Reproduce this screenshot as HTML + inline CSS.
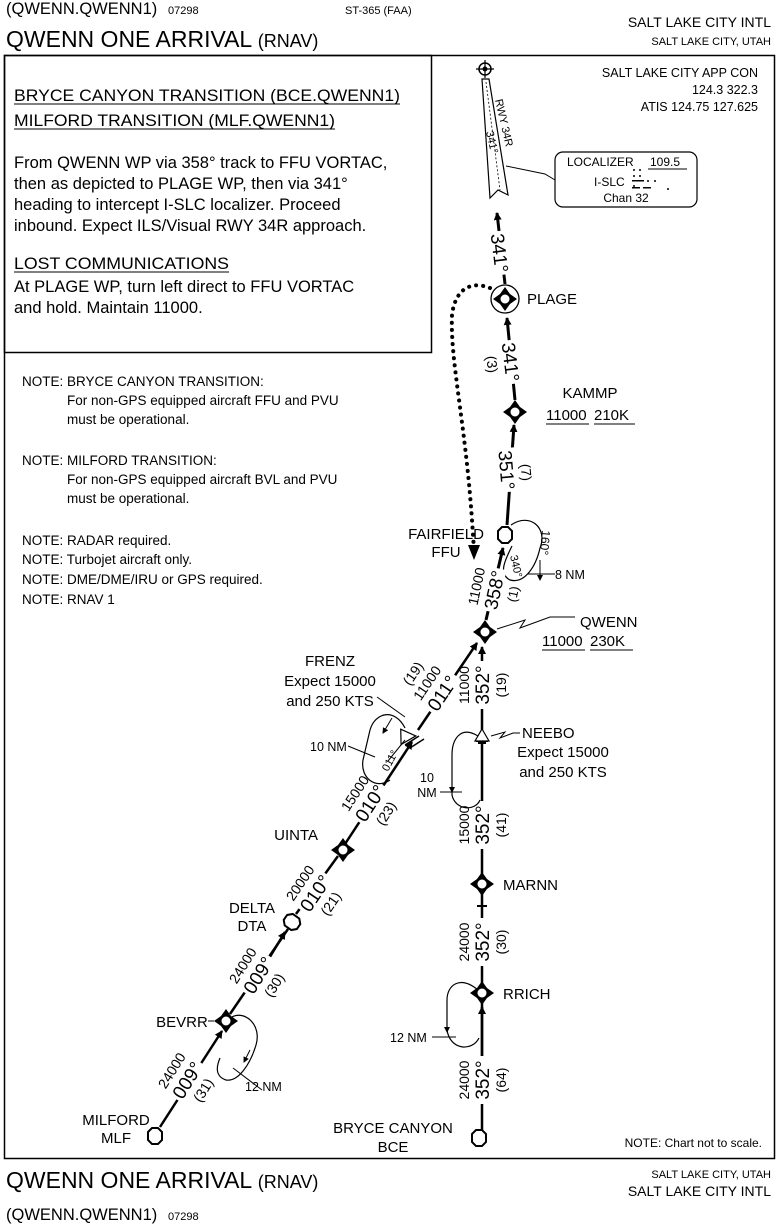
<!DOCTYPE html>
<html><head><meta charset="utf-8"><style>
html,body{margin:0;padding:0;background:#fff}
svg{display:block}
text{font-family:"Liberation Sans",sans-serif;fill:#000}
</style></head><body>
<svg width="778" height="1232" viewBox="0 0 778 1232" xmlns="http://www.w3.org/2000/svg">
<defs>
<marker id="ah" markerWidth="8" markerHeight="8" refX="7" refY="4" orient="auto" markerUnits="userSpaceOnUse"><path d="M0,0 L8,4 L0,8 Z" fill="#000"/></marker>
<marker id="ahs" markerWidth="6" markerHeight="6" refX="5" refY="3" orient="auto" markerUnits="userSpaceOnUse"><path d="M0,0 L6,3 L0,6 Z" fill="#000"/></marker>
<g id="fix"><path d="M0,-12 L5,-5 L12,0 L5,5 L0,12 L-5,5 L-12,0 L-5,-5Z" fill="#000"/><circle r="5" fill="#fff" stroke="#000" stroke-width="1"/></g>
<g id="hex"><path d="M-7,-4 L-3,-8 L3,-8 L7,-4 L7,4 L3,8 L-3,8 L-7,4Z" fill="#fff" stroke="#000" stroke-width="2"/></g>
</defs>
<!-- header -->
<text x="6" y="14" font-size="16.5">(QWENN.QWENN1)</text>
<text x="168" y="14" font-size="11">07298</text>
<text x="345" y="14" font-size="11">ST-365 (FAA)</text>
<text x="6" y="47" font-size="23">QWENN ONE ARRIVAL <tspan font-size="18">(RNAV)</tspan></text>
<text x="771" y="27" font-size="14" text-anchor="end">SALT LAKE CITY INTL</text>
<text x="771" y="45" font-size="11" text-anchor="end">SALT LAKE CITY, UTAH</text>
<!-- frame -->
<rect x="4.5" y="55.5" width="770" height="1103" fill="none" stroke="#000" stroke-width="1.5"/>
<rect x="4.5" y="55.5" width="427" height="297" fill="none" stroke="#000" stroke-width="1.5"/>
<text x="14" y="101" font-size="16.5" textLength="386" lengthAdjust="spacingAndGlyphs">BRYCE CANYON TRANSITION (BCE.QWENN1)</text>
<line x1="14" y1="104" x2="400" y2="104" stroke="#000"/>
<text x="14" y="126" font-size="16.5" textLength="321" lengthAdjust="spacingAndGlyphs">MILFORD TRANSITION (MLF.QWENN1)</text>
<line x1="14" y1="129" x2="335" y2="129" stroke="#000"/>
<text font-size="16.5"><tspan x="14" y="168">From QWENN WP via 358° track to FFU VORTAC,</tspan><tspan x="14" y="189">then as depicted to PLAGE WP, then via 341°</tspan><tspan x="14" y="210">heading to intercept I-SLC localizer. Proceed</tspan><tspan x="14" y="231">inbound. Expect ILS/Visual RWY 34R approach.</tspan></text>
<text x="14" y="269" font-size="16.5" textLength="215" lengthAdjust="spacingAndGlyphs">LOST COMMUNICATIONS</text>
<line x1="14" y1="272" x2="229" y2="272" stroke="#000"/>
<text font-size="16.5"><tspan x="14" y="292">At PLAGE WP, turn left direct to FFU VORTAC</tspan><tspan x="14" y="313">and hold.  Maintain 11000.</tspan></text>
<!-- notes -->
<g font-size="13.5">
<text x="22" y="386">NOTE: BRYCE CANYON TRANSITION:</text>
<text x="67" y="405">For non-GPS equipped aircraft FFU and PVU</text>
<text x="67" y="424">must be operational.</text>
<text x="22" y="465">NOTE: MILFORD TRANSITION:</text>
<text x="67" y="484">For non-GPS equipped aircraft BVL and PVU</text>
<text x="67" y="503">must be operational.</text>
<text x="22" y="545">NOTE:  RADAR required.</text>
<text x="22" y="564">NOTE:  Turbojet aircraft only.</text>
<text x="22" y="584">NOTE:  DME/DME/IRU or GPS required.</text>
<text x="22" y="604">NOTE:  RNAV 1</text>
</g>
<!-- app con -->
<g font-size="12.5" text-anchor="end">
<text x="758" y="77">SALT LAKE CITY APP CON</text>
<text x="758" y="94">124.3  322.3</text>
<text x="758" y="111">ATIS 124.75  127.625</text>
</g>
<!-- runway -->
<circle cx="485" cy="69" r="6" fill="none" stroke="#000" stroke-width="1.5"/><circle cx="485" cy="69" r="2.5" fill="#000"/>
<path d="M485,60V78M476,69H494" stroke="#000" stroke-width="1.2"/>
<path d="M482,79 L489,79 L508,195 L498,190 L490,198 Z" fill="#fff" stroke="#000" stroke-width="1.2"/>
<line x1="486" y1="82" x2="500" y2="190" stroke="#000" stroke-dasharray="2,2" stroke-width="0.8"/>
<text transform="translate(495,100) rotate(77)" font-size="11">RWY 34R</text>
<text transform="translate(486,132) rotate(77)" font-size="11">341°</text>
<!-- localizer box -->
<rect x="555" y="152" width="142" height="55" rx="8" fill="#fff" stroke="#000" stroke-width="1.2"/>
<path d="M506,166 L545,174 L555,180" fill="none" stroke="#000"/>
<g font-size="12"><text x="567" y="166">LOCALIZER</text><text x="650" y="166">109.5</text>
<text x="594" y="186">I-SLC</text><text x="626" y="202" text-anchor="middle">Chan 32</text></g>
<line x1="648" y1="169" x2="687" y2="169" stroke="#000"/>
<g fill="#000"><circle cx="634" cy="170" r="1"/><circle cx="640" cy="170" r="1"/><circle cx="634" cy="176" r="1"/><circle cx="640" cy="176" r="1"/>
<rect x="632" y="180" width="12" height="1.5"/><circle cx="648" cy="181" r="1"/><circle cx="655" cy="181" r="1"/><circle cx="634" cy="186" r="1"/><rect x="632" y="187" width="8" height="1.5"/><rect x="643" y="187" width="8" height="1.5"/><circle cx="668" cy="189" r="1"/></g>
<!-- dotted path -->
<path d="M490,288 C470,280 455,290 452,315 C450,360 465,420 472,520 L474,550" fill="none" stroke="#000" stroke-width="4" stroke-dasharray="0.1,7" stroke-linecap="round"/>
<path d="M468,545 L474,560 L480,545Z" fill="#000"/>
<!-- final legs -->
<line x1="505" y1="284" x2="497" y2="213" stroke="#000" stroke-width="3" marker-end="url(#ah)"/>
<g transform="translate(500,253) rotate(83)"><rect x="-22" y="-12" width="44" height="20" fill="#fff"/><text x="0" y="7" font-size="19" text-anchor="middle">341°</text></g>
<line x1="515" y1="400" x2="507" y2="318" stroke="#000" stroke-width="3" marker-end="url(#ah)"/>
<g transform="translate(511,362) rotate(83)"><rect x="-22" y="-12" width="44" height="20" fill="#fff"/><text x="0" y="7" font-size="19" text-anchor="middle">341°</text><text x="0" y="24" font-size="14" text-anchor="middle">(3)</text></g>
<circle cx="505" cy="299" r="14" fill="#fff" stroke="#000" stroke-width="1.3"/>
<use href="#fix" x="505" y="299"/>
<text x="527" y="304" font-size="15">PLAGE</text>
<line x1="507" y1="525" x2="514" y2="425" stroke="#000" stroke-width="3" marker-end="url(#ah)"/>
<g transform="translate(507,470) rotate(85)"><rect x="-22" y="-12" width="44" height="20" fill="#fff"/><text x="0" y="7" font-size="19" text-anchor="middle">351°</text><text x="4" y="-14" font-size="14" text-anchor="middle">(7)</text></g>
<use href="#fix" x="515" y="412"/>
<text x="590" y="398" font-size="15" text-anchor="middle">KAMMP</text>
<text x="546" y="420" font-size="15">11000</text><text x="594" y="420" font-size="15">210K</text>
<line x1="546" y1="424" x2="589" y2="424" stroke="#000"/><line x1="594" y1="424" x2="635" y2="424" stroke="#000"/>
<!-- FFU -->
<path d="M511,525 C530,512 548,528 540,548 C536,566 525,584 510,580 C498,574 505,560 512,546" fill="none" stroke="#000" stroke-width="1.2"/>
<line x1="540" y1="560" x2="540" y2="580" stroke="#000" marker-end="url(#ahs)"/>
<text transform="translate(542,530) rotate(95)" font-size="12">160°</text>
<line x1="528" y1="574" x2="555" y2="574" stroke="#000"/>
<text x="555" y="579" font-size="12.5">8 NM</text>
<use href="#hex" x="505" y="535"/>
<text x="446" y="539" font-size="15" text-anchor="middle">FAIRFIELD</text>
<text x="446" y="557" font-size="15" text-anchor="middle">FFU</text>
<line x1="486" y1="620" x2="503" y2="548" stroke="#000" stroke-width="3" marker-end="url(#ah)"/>
<g transform="translate(494,590) rotate(-78)"><rect x="-22" y="-12" width="44" height="20" fill="#fff"/><text x="0" y="-13" font-size="14" text-anchor="middle">11000</text><text x="0" y="7" font-size="19" text-anchor="middle">358°</text><text x="0" y="24" font-size="13" text-anchor="middle">(1)</text></g>
<text transform="translate(510,556) rotate(77)" font-size="11">340°</text>
<!-- QWENN -->
<use href="#fix" x="485" y="632"/>
<path d="M497,629 L525,620 L520,628 L550,617 L575,617" fill="none" stroke="#000"/>
<text x="580" y="627" font-size="15">QWENN</text>
<text x="542" y="646" font-size="15">11000</text><text x="590" y="646" font-size="15">230K</text>
<line x1="542" y1="650" x2="585" y2="650" stroke="#000"/><line x1="590" y1="650" x2="633" y2="650" stroke="#000"/>
<!-- right route -->
<line x1="482" y1="1140" x2="482" y2="647" stroke="#000" stroke-width="2.5" marker-end="url(#ah)"/>
<line x1="482" y1="1080" x2="482" y2="1007" stroke="#000" stroke-width="2.5" marker-end="url(#ah)"/>
<g transform="translate(482,685) rotate(-90)"><rect x="-24" y="-12" width="48" height="20" fill="#fff"/><text x="0" y="-13" font-size="14" text-anchor="middle">11000</text><text x="0" y="7" font-size="19" text-anchor="middle">352°</text><text x="0" y="24" font-size="14" text-anchor="middle">(19)</text></g>
<g transform="translate(482,825) rotate(-90)"><rect x="-24" y="-12" width="48" height="20" fill="#fff"/><text x="0" y="-13" font-size="14" text-anchor="middle">15000</text><text x="0" y="7" font-size="19" text-anchor="middle">352°</text><text x="0" y="24" font-size="14" text-anchor="middle">(41)</text></g>
<g transform="translate(482,942) rotate(-90)"><rect x="-24" y="-12" width="48" height="20" fill="#fff"/><text x="0" y="-13" font-size="14" text-anchor="middle">24000</text><text x="0" y="7" font-size="19" text-anchor="middle">352°</text><text x="0" y="24" font-size="14" text-anchor="middle">(30)</text></g>
<g transform="translate(482,1080) rotate(-90)"><rect x="-24" y="-12" width="48" height="20" fill="#fff"/><text x="0" y="-13" font-size="14" text-anchor="middle">24000</text><text x="0" y="7" font-size="19" text-anchor="middle">352°</text><text x="0" y="24" font-size="14" text-anchor="middle">(64)</text></g>
<path d="M476,741 H488 M478,743 H486" stroke="#000" stroke-width="2"/>
<path d="M482,729 L489,741 L475,741Z" fill="#fff" stroke="#000" stroke-width="1.2"/>
<path d="M478,736 C460,725 452,740 452,755 L452,795 C455,810 475,812 480,800" fill="none" stroke="#000" stroke-width="1.2"/>
<line x1="452" y1="780" x2="452" y2="792" stroke="#000" marker-end="url(#ahs)"/>
<path d="M491,736 L505,732 L500,738 L513,733 L520,733" fill="none" stroke="#000"/>
<text x="522" y="738" font-size="15">NEEBO</text>
<text x="563" y="757" font-size="15" text-anchor="middle">Expect 15000</text>
<text x="563" y="777" font-size="15" text-anchor="middle">and 250 KTS</text>
<text x="427" y="782" font-size="12.5" text-anchor="middle">10</text>
<text x="427" y="797" font-size="12.5" text-anchor="middle">NM</text>
<line x1="440" y1="792" x2="462" y2="792" stroke="#000"/>
<use href="#fix" x="482" y="884"/>
<text x="503" y="890" font-size="15">MARNN</text>
<path d="M477,906 H487" stroke="#000" stroke-width="2"/>
<use href="#fix" x="482" y="993"/>
<text x="503" y="999" font-size="15">RRICH</text>
<path d="M478,990 C460,975 447,985 447,1000 L447,1030 C450,1050 472,1052 479,1038" fill="none" stroke="#000" stroke-width="1.2"/>
<line x1="447" y1="1020" x2="447" y2="1032" stroke="#000" marker-end="url(#ahs)"/>
<text x="390" y="1042" font-size="12.5">12 NM</text>
<line x1="432" y1="1037" x2="456" y2="1037" stroke="#000"/>
<use href="#hex" x="479" y="1138"/>
<text x="393" y="1133" font-size="15" text-anchor="middle">BRYCE CANYON</text>
<text x="393" y="1152" font-size="15" text-anchor="middle">BCE</text>
<text x="762" y="1147" font-size="12" text-anchor="end">NOTE:  Chart not to scale.</text>
<!-- left route -->
<line x1="160" y1="1127" x2="222" y2="1031" stroke="#000" stroke-width="2.5" marker-end="url(#ah)"/>
<line x1="230" y1="1014" x2="288" y2="929" stroke="#000" stroke-width="2.5"/>
<line x1="262" y1="970" x2="285" y2="932" stroke="#000" stroke-width="2.5" marker-end="url(#ah)"/>
<line x1="296" y1="914" x2="338" y2="856" stroke="#000" stroke-width="2.5"/>
<line x1="345" y1="844" x2="412" y2="742" stroke="#000" stroke-width="2.5" marker-end="url(#ah)"/>
<line x1="418" y1="730" x2="477" y2="643" stroke="#000" stroke-width="2.5" marker-end="url(#ah)"/>
<g transform="translate(187,1080) rotate(-58)"><rect x="-22" y="-12" width="44" height="20" fill="#fff"/><text x="0" y="-13" font-size="14" text-anchor="middle">24000</text><text x="0" y="7" font-size="19" text-anchor="middle">009°</text><text x="0" y="24" font-size="14" text-anchor="middle">(31)</text></g>
<g transform="translate(258,975) rotate(-58)"><rect x="-22" y="-12" width="44" height="20" fill="#fff"/><text x="0" y="-13" font-size="14" text-anchor="middle">24000</text><text x="0" y="7" font-size="19" text-anchor="middle">009°</text><text x="0" y="24" font-size="14" text-anchor="middle">(30)</text></g>
<g transform="translate(315,893) rotate(-56)"><rect x="-22" y="-12" width="44" height="20" fill="#fff"/><text x="0" y="-13" font-size="14" text-anchor="middle">20000</text><text x="0" y="7" font-size="19" text-anchor="middle">010°</text><text x="0" y="24" font-size="14" text-anchor="middle">(21)</text></g>
<g transform="translate(370,803) rotate(-57)"><rect x="-22" y="-12" width="44" height="20" fill="#fff"/><text x="0" y="-13" font-size="14" text-anchor="middle">15000</text><text x="0" y="7" font-size="19" text-anchor="middle">010°</text><text x="0" y="24" font-size="14" text-anchor="middle">(23)</text></g>
<g transform="translate(442,693) rotate(-56)"><rect x="-22" y="-12" width="44" height="20" fill="#fff"/><text x="0" y="-13" font-size="14" text-anchor="middle">11000</text><text x="0" y="7" font-size="19" text-anchor="middle">011°</text><text x="0" y="-30" font-size="14" text-anchor="middle">(19)</text></g>
<use href="#hex" x="155" y="1136"/>
<text x="116" y="1125" font-size="15" text-anchor="middle">MILFORD</text>
<text x="116" y="1143" font-size="15" text-anchor="middle">MLF</text>
<use href="#fix" x="226" y="1021"/>
<text x="182" y="1027" font-size="15" text-anchor="middle">BEVRR</text>
<line x1="208" y1="1021" x2="214" y2="1021" stroke="#000"/>
<path d="M232,1017 C245,1010 262,1025 256,1045 C250,1065 238,1082 226,1080 C214,1076 217,1065 220,1058" fill="none" stroke="#000" stroke-width="1.2"/>
<line x1="250" y1="1050" x2="244" y2="1062" stroke="#000" marker-end="url(#ahs)"/>
<line x1="233" y1="1068" x2="262" y2="1090" stroke="#000"/>
<text x="245" y="1091" font-size="12.5">12 NM</text>
<g transform="translate(292,922) rotate(-55)"><use href="#hex"/></g>
<text x="252" y="913" font-size="15" text-anchor="middle">DELTA</text>
<text x="252" y="931" font-size="15" text-anchor="middle">DTA</text>
<use href="#fix" x="343" y="850"/>
<text x="318" y="840" font-size="15" text-anchor="end">UINTA</text>
<path d="M410,748 L424,739 M405,745 L419,736" stroke="#000" stroke-width="1.5"/>
<path d="M415,735 L402,746 L399,731Z" fill="#fff" stroke="#000" stroke-width="1.2" transform="rotate(10 410 740)"/>
<path d="M405,728 C395,708 375,712 370,730 L363,760 C360,778 376,790 390,780" fill="none" stroke="#000" stroke-width="1.2"/>
<line x1="392" y1="718" x2="383" y2="733" stroke="#000" marker-end="url(#ahs)"/>
<text transform="translate(388,772) rotate(-62)" font-size="11">011°</text>
<line x1="388" y1="761" x2="405" y2="740" stroke="#000"/>
<text x="310" y="751" font-size="12.5">10 NM</text>
<line x1="348" y1="746" x2="375" y2="757" stroke="#000"/>
<line x1="377" y1="697" x2="405" y2="717" stroke="#000"/>
<text x="330" y="666" font-size="15" text-anchor="middle">FRENZ</text>
<text x="330" y="686" font-size="15" text-anchor="middle">Expect 15000</text>
<text x="330" y="706" font-size="15" text-anchor="middle">and 250 KTS</text>
<!-- footer -->
<text x="6" y="1188" font-size="23">QWENN ONE ARRIVAL <tspan font-size="18">(RNAV)</tspan></text>
<text x="6" y="1220" font-size="16.5">(QWENN.QWENN1)</text>
<text x="168" y="1220" font-size="11">07298</text>
<text x="771" y="1178" font-size="11" text-anchor="end">SALT LAKE CITY, UTAH</text>
<text x="771" y="1196" font-size="14" text-anchor="end">SALT LAKE CITY INTL</text>
</svg>
</body></html>
